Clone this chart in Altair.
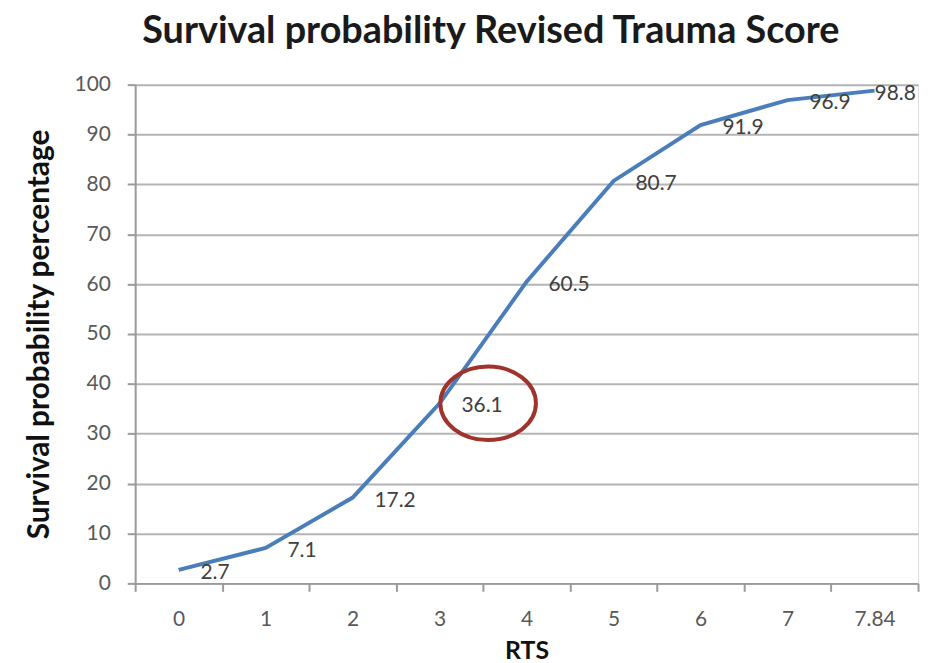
import altair as alt
import pandas as pd

rts = ["0", "1", "2", "3", "4", "5", "6", "7", "7.84"]
survival = [2.7, 7.1, 17.2, 36.1, 60.5, 80.7, 91.9, 96.9, 98.8]
labels = ["2.7", "7.1", "17.2", "36.1", "60.5", "80.7", "91.9", "96.9", "98.8"]
highlight_rts = ["3"]
highlight_val = [36.1]

df = pd.DataFrame({"rts": rts, "survival": survival, "label": labels})
hl = pd.DataFrame({"rts": highlight_rts, "survival": highlight_val})

FONT = "Lato"

x_enc = alt.X(
    "rts:N", sort=rts, bandPosition=0.5,
    scale=alt.Scale(type="band", paddingInner=0, paddingOuter=0),
    axis=alt.Axis(title="RTS", labelAngle=0, tickBand="extent", grid=False,
                  tickSize=8, labelPadding=17, titlePadding=10,
                  labelFontSize=21, titleFontSize=25, labelColor="#595959",
                  titleColor="#111111", labelFont=FONT, titleFont=FONT,
                  titleFontWeight="bold", domainColor="#9a9a9a", tickColor="#9a9a9a",
                  domainWidth=2, tickWidth=2),
)
y_enc = alt.Y(
    "survival:Q",
    scale=alt.Scale(domain=[0, 100], nice=False),
    axis=alt.Axis(title="Survival probability percentage", values=list(range(0, 101, 10)),
                  tickSize=8, labelPadding=17, titlePadding=20,
                  labelFontSize=21, titleFontSize=30, labelColor="#595959",
                  titleColor="#111111", labelFont=FONT, titleFont=FONT,
                  titleFontWeight="bold", gridColor="#b4b4b4", gridWidth=2,
                  domainColor="#9a9a9a", tickColor="#9a9a9a", domainWidth=2, tickWidth=2),
)

line = alt.Chart(df).mark_line(color="#4A7EBB", strokeWidth=4).encode(x=x_enc, y=y_enc)

text_main = alt.Chart(df).transform_filter(
    alt.datum.rts != "7.84"
).mark_text(align="left", baseline="middle", dx=22, dy=3, fontSize=21,
            font=FONT, color="#404040").encode(x=x_enc, y=y_enc, text="label:N")

text_last = alt.Chart(df).transform_filter(
    alt.datum.rts == "7.84"
).mark_text(align="left", baseline="middle", dx=0, dy=3, fontSize=21,
            font=FONT, color="#404040").encode(x=x_enc, y=y_enc, text="label:N")

ellipse_path = "M 0.02 0 A 1.3 1 0 1 0 2.62 0 A 1.3 1 0 1 0 0.02 0 Z"
ellipse = alt.Chart(hl).mark_point(
    shape=ellipse_path, filled=False, stroke="#A0342C", strokeWidth=4, opacity=1
).encode(x=x_enc, y=y_enc, size=alt.value(5476))

chart = alt.layer(line, text_main, text_last, ellipse).properties(
    width=788, height=502,
    autosize=alt.AutoSizeParams(type="none"),
    padding={"left": 128, "top": 75, "right": 5, "bottom": 78},
    title=alt.TitleParams("Survival probability Revised Trauma Score", fontSize=38,
                          font=FONT, fontWeight="bold", color="#1a1a1a",
                          anchor="middle", frame="group", dx=-36, offset=23),
).configure_view(stroke=None).configure(background="white")

chart.save("out.html", embed_options={"renderer": "svg", "actions": False})
